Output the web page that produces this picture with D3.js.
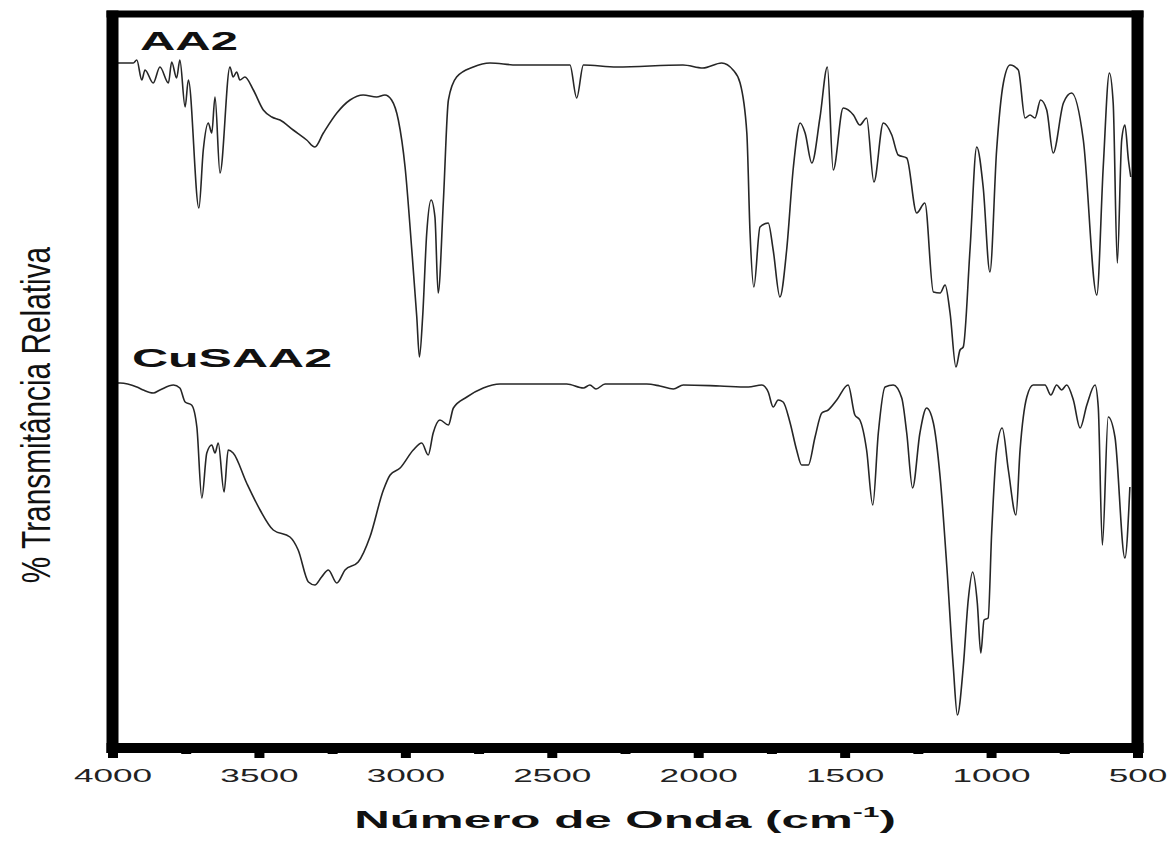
<!DOCTYPE html>
<html>
<head>
<meta charset="utf-8">
<script src="https://cdnjs.cloudflare.com/ajax/libs/d3/7.8.5/d3.min.js"></script>
<style>
    body { margin: 0; background: #fff; }
    svg { display: block; }
    text { font-family: 'Liberation Sans', Arial, sans-serif; }
</style>
</head>
<body>
<div id="chart"></div>
<script>
// IR spectra, [wavenumber (cm-1), relative transmittance (arb.)]
const aa2Spectrum = [
    [3985, 68.2], [3974, 68.2], [3929, 68.2], [3917, 68.5], [3900, 66.5], [3889, 67.5], [3861, 66.2],
    [3838, 67.8], [3809, 66.2], [3798, 68.3], [3781, 66.7], [3770, 68.5], [3752, 63.8], [3741, 66.5],
    [3705, 53.7], [3690, 59.5], [3673, 62.2], [3661, 61.2], [3650, 64.8], [3633, 57.2], [3599, 67.8],
    [3588, 66.8], [3576, 67.3], [3565, 66.5], [3548, 66.8], [3519, 65.5], [3485, 63.5], [3456, 62.8],
    [3428, 62.5], [3383, 61.5], [3337, 60.5], [3309, 59.8], [3280, 61.2], [3234, 63.2], [3189, 64.5],
    [3144, 65.0], [3098, 64.8], [3070, 65.0], [3047, 64.5], [3024, 62.5], [3001, 57.8], [2978, 49.5],
    [2961, 42.8], [2952, 38.8], [2941, 42.8], [2927, 51.2], [2912, 54.5], [2899, 52.8], [2888, 45.2],
    [2870, 54.5], [2853, 64.5], [2825, 66.8], [2768, 67.8], [2711, 68.2], [2620, 68.0], [2438, 68.0],
    [2415, 64.7], [2392, 68.0], [2278, 67.8], [2052, 68.0], [1984, 67.7], [1920, 68.2], [1881, 67.5],
    [1857, 66.2], [1834, 61.2], [1823, 51.2], [1810, 45.8], [1789, 51.8], [1761, 52.2], [1744, 49.5],
    [1721, 44.8], [1698, 49.5], [1675, 57.8], [1652, 62.2], [1635, 61.2], [1612, 58.2], [1584, 62.8],
    [1559, 67.8], [1539, 57.5], [1505, 63.7], [1470, 63.0], [1448, 62.0], [1425, 62.7], [1400, 56.3],
    [1368, 62.2], [1339, 61.0], [1317, 59.0], [1288, 58.7], [1254, 53.2], [1226, 54.2], [1197, 45.3],
    [1174, 45.2], [1157, 46.0], [1140, 43.2], [1120, 37.8], [1106, 39.5], [1095, 39.8], [1072, 49.5],
    [1049, 59.8], [1027, 55.8], [1004, 47.3], [981, 59.5], [958, 66.2], [935, 68.0], [907, 67.5],
    [884, 62.7], [867, 63.0], [850, 62.7], [831, 64.5], [810, 63.5], [788, 59.2], [753, 64.2],
    [725, 65.2], [685, 60.5], [639, 45.0], [617, 57.8], [596, 67.2], [583, 64.2], [569, 48.2],
    [554, 60.5], [543, 62.0], [531, 58.5], [523, 56.8]
];

const cusaa2Spectrum = [
    [3985, 36.2], [3974, 36.2], [3917, 35.8], [3895, 35.5], [3861, 35.2], [3838, 35.5], [3792, 36.0],
    [3770, 35.7], [3752, 34.3], [3730, 34.0], [3712, 31.8], [3695, 24.7], [3678, 29.2], [3661, 30.0],
    [3650, 29.2], [3639, 30.2], [3619, 25.3], [3605, 29.5], [3588, 29.2], [3542, 26.2], [3496, 23.5],
    [3451, 21.5], [3394, 20.8], [3366, 19.5], [3331, 16.3], [3309, 16.0], [3286, 16.8], [3263, 17.5],
    [3234, 16.2], [3206, 17.5], [3161, 18.3], [3121, 20.8], [3075, 25.5], [3052, 27.0], [3018, 27.7],
    [2973, 29.5], [2944, 30.2], [2922, 29.0], [2905, 31.2], [2882, 32.5], [2853, 32.0], [2836, 33.7],
    [2790, 34.8], [2734, 35.7], [2677, 36.1], [2449, 36.1], [2392, 35.7], [2370, 36.0], [2349, 35.6],
    [2318, 36.1], [2176, 36.1], [2131, 35.9], [2085, 35.6], [2051, 36.0], [1926, 35.9], [1829, 35.8],
    [1783, 36.0], [1761, 35.3], [1744, 33.8], [1727, 34.5], [1710, 34.3], [1687, 32.3], [1664, 29.5],
    [1647, 28.0], [1624, 28.0], [1601, 30.8], [1578, 33.2], [1556, 33.5], [1527, 34.5], [1488, 36.0],
    [1465, 33.0], [1448, 32.5], [1425, 29.5], [1404, 24.0], [1385, 31.2], [1362, 35.8], [1334, 36.0],
    [1305, 34.7], [1288, 31.2], [1268, 25.7], [1243, 31.2], [1220, 33.7], [1197, 32.2], [1174, 26.8],
    [1151, 17.8], [1129, 7.8], [1115, 3.0], [1095, 7.8], [1078, 14.5], [1063, 17.3], [1047, 14.2],
    [1035, 9.2], [1024, 12.5], [1010, 12.7], [998, 21.2], [981, 29.5], [962, 31.7], [941, 27.5],
    [915, 23.0], [901, 29.5], [878, 34.8], [856, 36.0], [816, 36.0], [796, 35.0], [776, 36.0],
    [759, 35.5], [742, 36.0], [719, 34.5], [696, 31.7], [673, 34.0], [645, 36.0], [634, 33.8],
    [620, 20.0], [600, 32.8], [577, 30.8], [543, 18.7], [526, 25.8]
];

const majorTicks = [4000, 3500, 3000, 2500, 2000, 1500, 1000, 500];
const minorTicks = [3750, 3250, 2750, 2250, 1750, 1250, 750];

const seriesLabels = [
    { name: 'AA2', x: 140, y: 50, size: 25, width: 98 },
    { name: 'CuSAA2', x: 132, y: 367, size: 26.5, width: 200 }
];

const xTitle = 'Número de Onda (cm';
const yTitle = '% Transmitância Relativa';

const width = 1172;
const height = 841;

const svg = d3.select('#chart')
    .append('svg')
    .attr('width', width)
    .attr('height', height);

svg.append('rect')
    .attr('width', width)
    .attr('height', height)
    .attr('fill', '#fff');

// Scales: the frame sits exactly on the domain ends
const x = d3.scaleLinear()
    .domain([4000, 500])
    .range([112.5, 1137.5]);

const y = d3.scaleLinear()
    .domain([-0.3, 73.1])
    .range([748, 14]);

const line = d3.line()
    .x(d => x(d[0]))
    .y(d => y(d[1]))
    .curve(d3.curveMonotoneX);

// Spectra
[aa2Spectrum, cusaa2Spectrum].forEach(data => {
    svg.append('path')
        .datum(data)
        .attr('fill', 'none')
        .attr('stroke', '#262626')
        .attr('stroke-width', 1.6)
        .attr('stroke-linejoin', 'round')
        .attr('d', line);
});

// Ticks (outward, heavy like the original)
const axisY = y.range()[0];

const minorAxis = svg.append('g')
    .attr('transform', `translate(0,${axisY})`)
    .call(d3.axisBottom(x).tickValues(minorTicks).tickSize(6).tickSizeOuter(0).tickFormat(''));

const majorAxis = svg.append('g')
    .attr('transform', `translate(0,${axisY})`)
    .call(d3.axisBottom(x).tickValues(majorTicks).tickSize(10).tickSizeOuter(0).tickFormat(d3.format('d')));

[minorAxis, majorAxis].forEach(g => {
    g.select('.domain').remove();
    g.selectAll('.tick line')
        .attr('stroke', '#000')
        .attr('stroke-width', 10);
});

majorAxis.selectAll('.tick text')
    .attr('y', 34)
    .attr('dy', 0)
    .attr('fill', '#222')
    .style('font-size', '19px')
    .attr('transform', 'scale(1.85,1)');

// Frame
const [x0, x1] = x.range();
const [yb, yt] = y.range();
const frame = svg.append('g').attr('stroke', '#000');
frame.append('line').attr('x1', x0 - 6).attr('x2', x1 + 6).attr('y1', yt).attr('y2', yt).attr('stroke-width', 7);
frame.append('line').attr('x1', x0 - 6).attr('x2', x1 + 6).attr('y1', yb).attr('y2', yb).attr('stroke-width', 10);
frame.append('line').attr('x1', x0).attr('x2', x0).attr('y1', yt - 3.5).attr('y2', yb + 5).attr('stroke-width', 12);
frame.append('line').attr('x1', x1).attr('x2', x1).attr('y1', yt - 3.5).attr('y2', yb + 5).attr('stroke-width', 12);

// Stretch a text horizontally to a target width
function stretch(text, targetWidth) {
    const w = text.node().getBBox().width;
    return targetWidth / w;
}

// Series labels
seriesLabels.forEach(d => {
    const t = svg.append('text')
        .attr('fill', '#111')
        .style('font-size', d.size + 'px')
        .style('font-weight', 'bold')
        .text(d.name);
    const k = stretch(t, d.width);
    t.attr('transform', `translate(${d.x},${d.y}) scale(${k},1)`);
});

// X axis title with superscript
const title = svg.append('text')
    .attr('text-anchor', 'middle')
    .attr('fill', '#111')
    .style('font-size', '23px')
    .style('font-weight', 'bold');
title.append('tspan').text(xTitle);
title.append('tspan').attr('dy', -11).style('font-size', '14px').text('-1');
title.append('tspan').attr('dy', 11).text(')');
const kt = stretch(title, 542);
title.attr('transform', `translate(${(x0 + x1) / 2},828) scale(${kt},1)`);

// Y axis title, rotated and condensed
const yLabel = svg.append('text')
    .attr('text-anchor', 'middle')
    .attr('fill', '#111')
    .style('font-size', '40px')
    .text(yTitle);
const ky = stretch(yLabel, 337);
yLabel.attr('transform', `translate(49.5,415) rotate(-90) scale(${ky},1)`);
</script>
</body>
</html>
